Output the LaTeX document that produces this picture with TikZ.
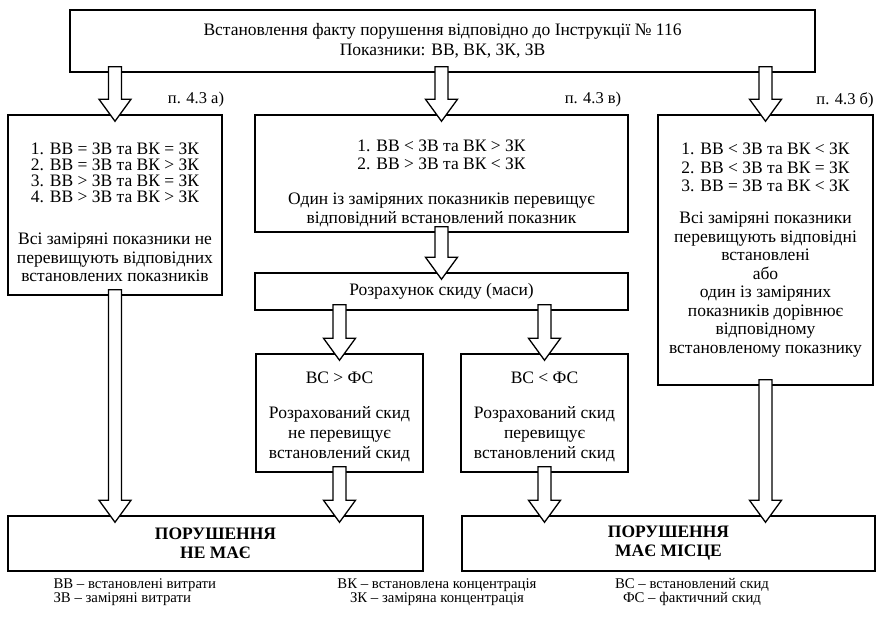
\documentclass[tikz,border=0pt]{standalone}
\usepackage{fontspec}
\setmainfont{Liberation Serif}
\usetikzlibrary{calc}
\tikzset{
  box/.style={draw, line width=1.5pt, fill=white, align=center, inner sep=0pt,
    font=\fontsize{17.5}{18.5}\selectfont},
  wide/.style={font=\fontsize{17.5}{20}\selectfont},
  wh/.style 2 args={minimum width=#1pt, minimum height=#2pt},
  hollow/.style={draw, line width=1.3pt, fill=white, line join=miter},
  tag/.style={font=\fontsize{16.5}{18}\selectfont},
  note/.style={font=\fontsize{14.8}{14}\selectfont}
}
% hollow block arrow: source, target, node giving the x
\newcommand\hollowarrow[3]{%
  \path[hollow] let \p1=(#1.south -| #3), \p2=(#2.north -| #3) in
    ({\x1-6.5pt},{\y1+6pt}) -- ({\x1-6.5pt},{\y2+15pt}) -- ({\x1-16pt},{\y2+15pt})
    -- (\x1,{\y2-7pt}) -- ({\x1+16pt},{\y2+15pt}) -- ({\x1+6.5pt},{\y2+15pt})
    -- ({\x1+6.5pt},{\y1+6pt}) -- cycle;}
% taller first line, pushes the text of a box down
\newcommand\topgap[1]{\rule{0pt}{#1}}

\begin{document}
\begin{tikzpicture}[x=1pt,y=-1pt]
  \useasboundingbox (0,0) rectangle (877,619);
  \node[box, wh={745}{62}] (start) at (442.5,41)
    {Встановлення факту порушення відповідно до Інструкції № 116\\[1.5pt]
     Показники: ВВ, ВК, ЗК, ЗВ};
  \node[box, wh={214}{180}] (pa) at (115,205)
    {\topgap{27pt}1. ВВ = ЗВ та ВК = ЗК\\[-2.5pt]
     2. ВВ = ЗВ та ВК > ЗК\\[-2.5pt]
     3. ВВ > ЗВ та ВК = ЗК\\[-2.5pt]
     4. ВВ > ЗВ та ВК > ЗК\\[23.5pt]
     Всі заміряні показники не\\
     перевищують відповідних\\
     встановлених показників};
  \node[box, wh={373}{117}] (pv) at (441.5,173.5)
    {\topgap{31pt}1. ВВ < ЗВ та ВК > ЗК\\
     2. ВВ > ЗВ та ВК < ЗК\\[16.5pt]
     Один із заміряних показників перевищує\\
     відповідний встановлений показник};
  \node[box, wh={215}{270}] (pb) at (765.5,250)
    {1. ВВ < ЗВ та ВК < ЗК\\
     2. ВВ < ЗВ та ВК = ЗК\\
     3. ВВ = ЗВ та ВК < ЗК\\[13.5pt]
     Всі заміряні показники\\
     перевищують відповідні\\
     встановлені\\
     або\\
     один із заміряних\\
     показників дорівнює\\
     відповідному\\
     встановленому показнику};
  \node[box, wh={373}{37}] (calc) at (441.5,291.5) {Розрахунок скиду (маси)};
  \node[box, wide, wh={167}{118}] (sgt) at (339.5,413)
    {\topgap{19pt}ВС > ФС\\[15pt]
     Розрахований скид\\
     не перевищує\\
     встановлений скид};
  \node[box, wide, wh={167}{118}] (slt) at (544.5,413)
    {\topgap{19pt}ВС < ФС\\[15pt]
     Розрахований скид\\
     перевищує\\
     встановлений скид};
  \node[box, wh={415}{55}] (none) at (215.5,543.5)
    {\textbf{ПОРУШЕННЯ}\\[0.5pt] \textbf{НЕ МАЄ}};
  \node[box, wh={413}{55}] (viol) at (668.5,543.5)
    {\textbf{ПОРУШЕННЯ}\\[0.5pt] \textbf{МАЄ МІСЦЕ}};

  \hollowarrow{start}{pa}{pa}
  \hollowarrow{start}{pv}{pv}
  \hollowarrow{start}{pb}{pb}
  \hollowarrow{pv}{calc}{pv}
  \hollowarrow{calc}{sgt}{sgt}
  \hollowarrow{calc}{slt}{slt}
  \hollowarrow{pa}{none}{pa}
  \hollowarrow{sgt}{none}{sgt}
  \hollowarrow{slt}{viol}{slt}
  \hollowarrow{pb}{viol}{pb}

  \node[tag] (la) at (196,100) {п. 4.3 а)};
  \node[tag] (lv) at (593,100) {п. 4.3 в)};
  \node[tag] (lb) at (845,100) {п. 4.3 б)};

  \node[note, align=left, anchor=west] (keyw) at (50,592)
    {ВВ – встановлені витрати\\ ЗВ – заміряні витрати};
  \node[note, align=center] (keyc) at (437,592)
    {ВК – встановлена концентрація\\ ЗК – заміряна концентрація};
  \node[note, align=center] (keys) at (692,592)
    {ВС – встановлений скид\\ ФС – фактичний скид};
\end{tikzpicture}
\end{document}
